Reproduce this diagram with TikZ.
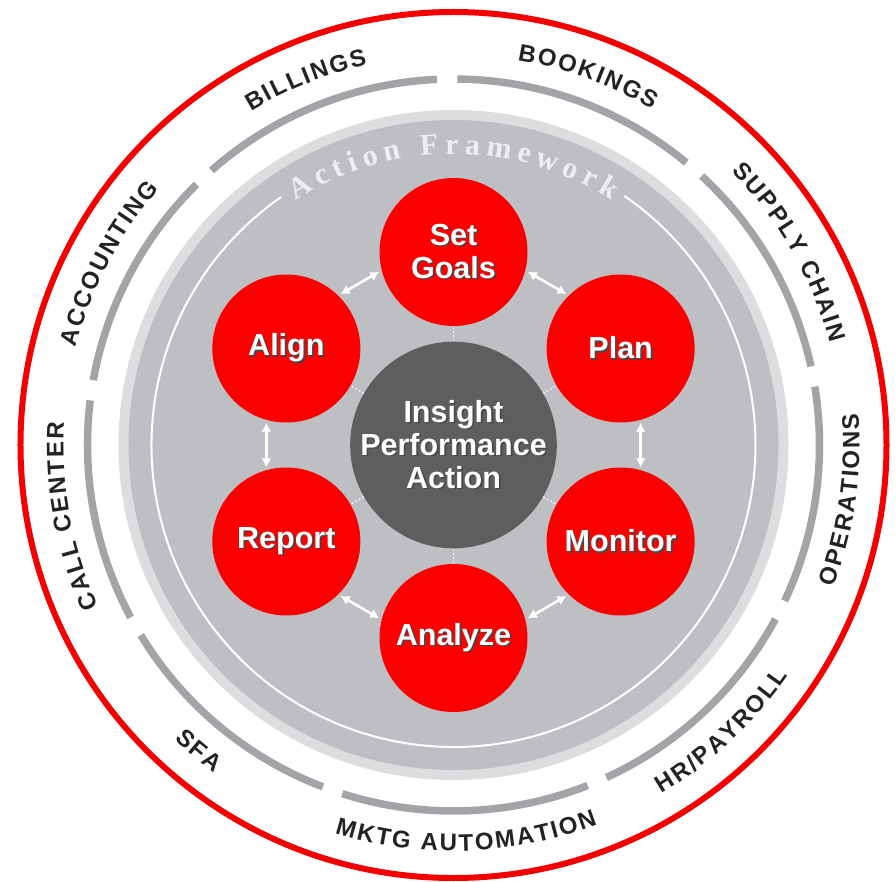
\documentclass[tikz,border=0pt]{standalone}
\usepackage{fontspec}
\setmainfont{Liberation Sans}
\newfontfamily\serifam{Liberation Serif}
\usetikzlibrary{arrows.meta,calc}

\definecolor{ringred}{RGB}{245,0,0}
\definecolor{circred}{RGB}{250,0,0}
\definecolor{arcgray}{RGB}{163,164,168}
\definecolor{lightring}{RGB}{220,221,223}
\definecolor{midgray}{RGB}{190,191,195}
\definecolor{coregray}{RGB}{94,94,94}
\definecolor{labeldark}{RGB}{35,35,35}
\definecolor{shadowc}{RGB}{70,70,70}
\definecolor{afw}{RGB}{238,238,240}

\newcommand\lblfont{\fontsize{24}{24}\selectfont\bfseries\color{labeldark}}
\newcommand\afwfont{\serifam\fontsize{30}{30}\selectfont\bfseries\color{afw}}
\newcommand\bigfont{\bfseries\fontsize{30.5}{33}\selectfont}
\newcommand\shd[1]{\leavevmode\rlap{\kern1.6pt\raisebox{-1.6pt}{\textcolor{shadowc}{#1}}}#1}

\makeatletter
\newcommand\dimnum[1]{\strip@pt#1}
\makeatother
\newdimen\chw
\newdimen\totw
\newdimen\accw
\newbox\glyphbox
\newcommand\measureglyph[2]{\pgfinterruptpicture\global\setbox\glyphbox\hbox{\normalfont#1#2}\endpgfinterruptpicture\global\chw=\wd\glyphbox\relax}
% #1 font, #2 centre angle, #3 baseline radius, #4 tracking, #5 direction (1 clockwise, -1 counter), #6 letters
\newcommand\arclabel[6]{%
  \global\totw=0pt\relax
  \foreach \glyphx in {#6}{\measureglyph{#1}{\glyphx}\global\advance\totw by \chw\relax\global\advance\totw by #4pt\relax}%
  \global\advance\totw by -#4pt\relax
  \pgfmathsetmacro\arcstart{(#2)+(#5)*\dimnum\totw/(#3)*90/pi}%
  \global\accw=0pt\relax
  \foreach \glyphx in {#6}{%
    \measureglyph{#1}{\glyphx}%
    \pgfmathsetmacro\arcang{\arcstart-(#5)*(\dimnum\accw+0.5*\dimnum\chw)/(#3)*180/pi}%
    \pgfmathsetmacro\arcrot{\arcang-(#5)*90}%
    \node[font=#1, inner sep=0pt, anchor=base, rotate=\arcrot] at (\arcang:#3) {\glyphx};
    \global\advance\accw by \chw\relax
    \global\advance\accw by #4pt\relax
  }%
}

\tikzset{
  redc/.style={circle, fill=circred, minimum size=148pt, inner sep=0pt, text=white, font=\bigfont, align=center},
  core/.style={circle, fill=coregray, minimum size=198pt, inner sep=0pt, text=white, font=\bigfont, align=center},
  grayarc/.style={draw=arcgray, line width=7.5pt},
  spoke/.style={draw=white, line width=1.3pt, dash pattern=on 2pt off 2pt, opacity=0.8},
  arr/.style={draw=white, line width=2.6pt, {Latex[length=9pt,width=10pt]}-{Latex[length=9pt,width=10pt]}},
}

\begin{document}
\begin{tikzpicture}[x=1pt,y=1pt]
\useasboundingbox[fill=white] (-453.5,-436) rectangle (442.5,445);

% outer red ring
\draw[ringred, line width=6pt] (0,0) circle[radius=433];

% gray arc segments
\foreach \a/\b in {89.4/50.5, 47.3/12.4, 9.2/-25.2, -28.4/-65.3, -68.5/-107.7, -110.9/-148.7, -151.9/-187.0, -190.2/-225.4, 131.4/92.6}{
  \draw[grayarc] (\a:366) arc[start angle=\a, end angle=\b, radius=366];
}

% inner disk
\fill[lightring] (0,0) circle[radius=335];
\fill[midgray] (0,0) circle[radius=325];
\draw[white, line width=2pt] (124.8:302) arc[start angle=124.8, end angle=415.6, radius=302];

% labels around
\arclabel{\lblfont}{112}{390}{2}{1}{B,I,L,L,I,N,G,S}
\arclabel{\lblfont}{69.95}{390}{2}{1}{B,O,O,K,I,N,G,S}
\arclabel{\lblfont}{29.85}{390}{2}{1}{S,U,P,P,L,Y,~,C,H,A,I,N}
\arclabel{\lblfont}{-8}{406}{2}{-1}{O,P,E,R,A,T,I,O,N,S}
\arclabel{\lblfont}{-46.85}{406}{2}{-1}{H,R,/,P,A,Y,R,O,L,L}
\arclabel{\lblfont}{-88.1}{406}{2}{-1}{M,K,T,G,~,A,U,T,O,M,A,T,I,O,N}
\arclabel{\lblfont}{-129.8}{406}{2}{-1}{S,F,A}
\arclabel{\lblfont}{190.55}{390}{2}{1}{C,A,L,L,~,C,E,N,T,E,R}
\arclabel{\lblfont}{152.2}{390}{2}{1}{A,C,C,O,U,N,T,I,N,G}

% Action Framework
\arclabel{\afwfont}{90}{291}{6}{1}{A,c,t,i,o,n,~,F,r,a,m,e,w,o,r,k}

% nodes
\node[core] (core) at (0,0) {\shd{Insight}\\\shd{Performance}\\\shd{Action}};
\node[redc] (goals) at (90:193) {\shd{Set}\\\shd{Goals}};
\node[redc] (plan) at (30:193) {\shd{Plan}};
\node[redc] (monitor) at (-30:193) {\shd{Monitor}};
\node[redc] (analyze) at (-90:193) {\shd{Analyze}};
\node[redc] (report) at (-150:193) {\shd{Report}};
\node[redc] (align) at (150:193) {\shd{Align}};

% spokes
\foreach \n in {goals,plan,monitor,analyze,report,align}{
  \draw[spoke] (core) -- (\n);
}

% arrows
\draw[arr, transform canvas={shift={(120:20)}}] (goals) -- (align);
\draw[arr, transform canvas={shift={(60:20)}}] (goals) -- (plan);
\draw[arr, transform canvas={shift={(0:20)}}] (plan) -- (monitor);
\draw[arr, transform canvas={shift={(-60:20)}}] (monitor) -- (analyze);
\draw[arr, transform canvas={shift={(-120:20)}}] (analyze) -- (report);
\draw[arr, transform canvas={shift={(180:20)}}] (report) -- (align);
\end{tikzpicture}
\end{document}
